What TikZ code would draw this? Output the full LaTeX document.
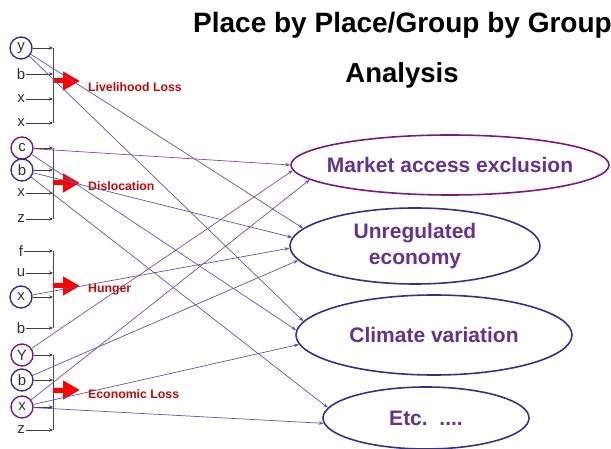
\documentclass[tikz,border=0pt]{standalone}
\usepackage{fontspec}
\setmainfont{Liberation Sans}
\usetikzlibrary{arrows.meta,shapes.geometric}

\definecolor{ringblue}{RGB}{50,50,140}
\definecolor{ringpurple}{RGB}{125,25,125}
\definecolor{linkblue}{RGB}{90,90,160}
\definecolor{linkpurple}{RGB}{140,70,150}
\definecolor{labelpurple}{RGB}{100,50,145}
\definecolor{lossred}{RGB}{190,10,10}

\tikzset{
    letter/.style={text=black!80, font=\fontsize{15}{15}\selectfont, inner sep=1pt},
    ringed/.style={letter, circle, draw=#1, line width=1.4pt, minimum size=22pt, inner sep=0pt},
    tick/.style={draw=black!75, line width=0.7pt, -{Stealth[length=4pt,width=3.5pt]}},
    bar/.style={draw=black!70, line width=0.9pt},
    push/.style={red, line width=5pt, -{Triangle[length=17pt,width=18pt]}},
    loss/.style={text=lossred, font=\bfseries\fontsize{12.3}{13}\selectfont, anchor=west, inner sep=0pt},
    cause/.style={ellipse, draw=#1, line width=1.6pt, inner sep=0pt},
    causetext/.style={text=labelpurple, font=\bfseries\fontsize{21}{26}\selectfont, align=center},
    link/.style={draw=#1, line width=0.7pt, -{Stealth[length=5pt,width=3.5pt]}}
}

\begin{document}
\begin{tikzpicture}[x=1pt, y=-1pt]
    \useasboundingbox (0,0) rectangle (611,449);

    % the title
    \node[font=\bfseries\fontsize{28}{28}\selectfont, anchor=base west, inner sep=0pt] (title1) at (193,33) {Place by Place/Group by Group};
    \node[font=\bfseries\fontsize{27.5}{28}\selectfont, anchor=base, inner sep=0pt] (title2) at (402,83) {Analysis};

    % the ellipses on the right
    \node[cause=ringpurple, minimum width=318pt, minimum height=60pt,
        label={[causetext]center:Market access exclusion}] (market) at (450,165) {};
    \node[cause=ringblue, minimum width=250pt, minimum height=76pt,
        label={[causetext]center:Unregulated\\economy}] (unreg) at (415,246) {};
    \node[cause=ringblue, minimum width=276pt, minimum height=80pt,
        label={[causetext]center:Climate variation}] (climate) at (434,335) {};
    \node[cause=ringblue, minimum width=206pt, minimum height=62pt,
        label={[causetext]center:Etc.\ \ ....}] (etc) at (426,418) {};

    % the letters on the left
    \node[ringed=ringblue] (y1) at (21,48) {y};
    \node[letter] (b1) at (21,74) {b};
    \node[letter] (xa1) at (21,99) {x};
    \node[letter] (xb1) at (21,123) {x};

    \node[ringed=ringpurple] (c2) at (22,148) {c};
    \node[ringed=ringblue] (b2) at (22,170) {b};
    \node[letter] (x2) at (21,193) {x};
    \node[letter] (z2) at (21,219) {z};

    \node[letter] (f3) at (21,251) {f};
    \node[letter] (u3) at (21,273) {u};
    \node[ringed=ringblue] (x3) at (21,297) {x};
    \node[letter] (b3) at (21,328) {b};

    \node[ringed=ringpurple] (y4) at (22,355) {Y};
    \node[ringed=ringblue] (b4) at (22,380) {b};
    \node[ringed=ringpurple] (x4) at (22,407) {x};
    \node[letter] (z4) at (21,430) {z};

    % the brackets (every group is collected at this x)
    \coordinate (br) at (53,0);
    \foreach \a/\b in {y1/xb1, c2/z2, f3/b3, y4/z4}
        \draw[bar] (\a -| br) -- (\b -| br);
    \foreach \n in {y1,b1,xa1,xb1,c2,b2,x2,z2,f3,u3,x3,b3,y4,b4,x4,z4}
        \draw[tick] (\n) -- (\n -| br);

    % the red arrows and the losses
    \draw[push] (53,81) -- (80,81);
    \node[loss] (livelihood) at (88,87) {Livelihood Loss};
    \draw[push] (53,183) -- (80,183);
    \node[loss] (dislocation) at (88,186) {Dislocation};
    \draw[push] (53,286) -- (80,286);
    \node[loss] (hunger) at (88,290) {Hunger};
    \draw[push] (53,390) -- (80,390);
    \node[loss] (economic) at (88,394) {Economic Loss};

    % the links from the groups to the ellipses
    \draw[link=linkpurple] (c2) -- (market.180);
    \draw[link=linkpurple] (y4) -- (market.182);
    \draw[link=linkpurple] (x4) -- (market.186);
    \draw[link=linkblue] (y1) -- (unreg.171);
    \draw[link=linkblue] (b2) -- (unreg.176);
    \draw[link=linkblue] (x3) -- (unreg.181);
    \draw[link=linkblue] (b4) -- (unreg.187);
    \draw[link=linkblue] (y1) -- (climate.174);
    \draw[link=linkblue] (c2) -- (climate.178);
    \draw[link=linkblue] (x4) -- (climate.184);
    \draw[link=linkblue] (b2) -- (etc.174);
    \draw[link=linkblue] (x4) -- (etc.183);

\end{tikzpicture}
\end{document}
